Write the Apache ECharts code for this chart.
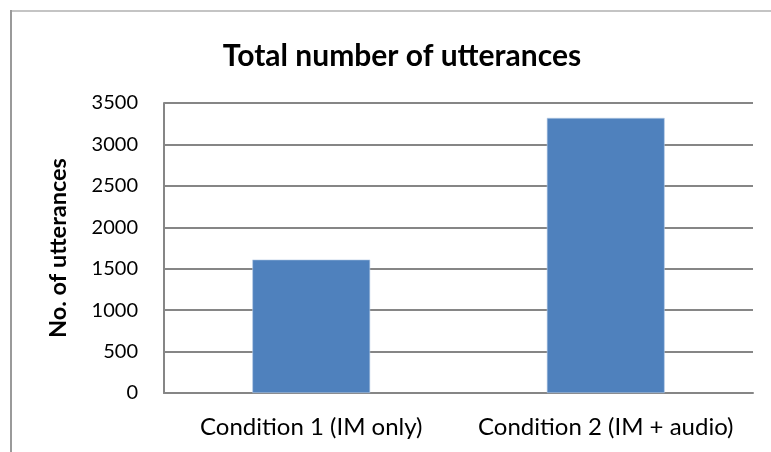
<!DOCTYPE html>
<html>
<head>
<meta charset="utf-8">
<script src="https://cdn.jsdelivr.net/npm/echarts@6/dist/echarts.min.js"></script>
<style>
  html, body { margin: 0; padding: 0; background: #fff; }
  #chart { width: 771px; height: 452px; }
</style>
</head>
<body>
<div id="chart"></div>
<script>
// Utterance counts per experimental condition
const categories = ['Condition 1 (IM only)', 'Condition 2 (IM + audio)'];
const utterances = [1610, 3320];
const yTicks = { min: 0, max: 3500, interval: 500 };

const FONT = 'Lato, "Open Sans", sans-serif';

const chart = echarts.init(document.getElementById('chart'), null, { renderer: 'canvas' });
chart.setOption({
  animation: false,
  backgroundColor: '#fff',
  title: {
    text: 'Total number of utterances',
    left: 397,
    top: 36,
    textAlign: 'center',
    textStyle: { fontFamily: FONT, fontWeight: 'bold', fontSize: 30, color: '#000' }
  },
  // Frame edges of the chart box
  graphic: [
    {
      type: 'line',
      shape: { x1: 10, y1: 11, x2: 771, y2: 11 },
      style: { stroke: '#c4c4c4', lineWidth: 2 },
      silent: true
    },
    {
      type: 'line',
      shape: { x1: 11, y1: 10, x2: 11, y2: 452 },
      style: { stroke: '#9a9a9a', lineWidth: 2 },
      silent: true
    }
  ],
  grid: { left: 164, right: 18, top: 103, bottom: 59, containLabel: false },
  xAxis: {
    type: 'category',
    data: categories,
    axisLine: { lineStyle: { color: '#868686', width: 2 } },
    axisTick: { show: false },
    axisLabel: {
      fontFamily: FONT, fontSize: 24, color: '#000', margin: 22,
      interval: 0, hideOverlap: false
    }
  },
  yAxis: {
    type: 'value',
    min: yTicks.min,
    max: yTicks.max,
    interval: yTicks.interval,
    name: 'No. of utterances',
    nameLocation: 'middle',
    nameGap: 94,
    nameTextStyle: { fontFamily: FONT, fontWeight: 'bold', fontSize: 23.5, color: '#000' },
    axisLine: { show: true, lineStyle: { color: '#868686', width: 2 } },
    axisTick: { show: false },
    axisLabel: {
      fontFamily: FONT, fontSize: 20, color: '#000', margin: 26,
      formatter: (v) => String(v)
    },
    splitLine: { lineStyle: { color: '#868686', width: 2 } }
  },
  series: [{
    type: 'bar',
    data: utterances,
    barWidth: '40%',
    itemStyle: { color: '#4f81bd', borderColor: '#b9cde5', borderWidth: 0.6 }
  }]
});
</script>
</body>
</html>
